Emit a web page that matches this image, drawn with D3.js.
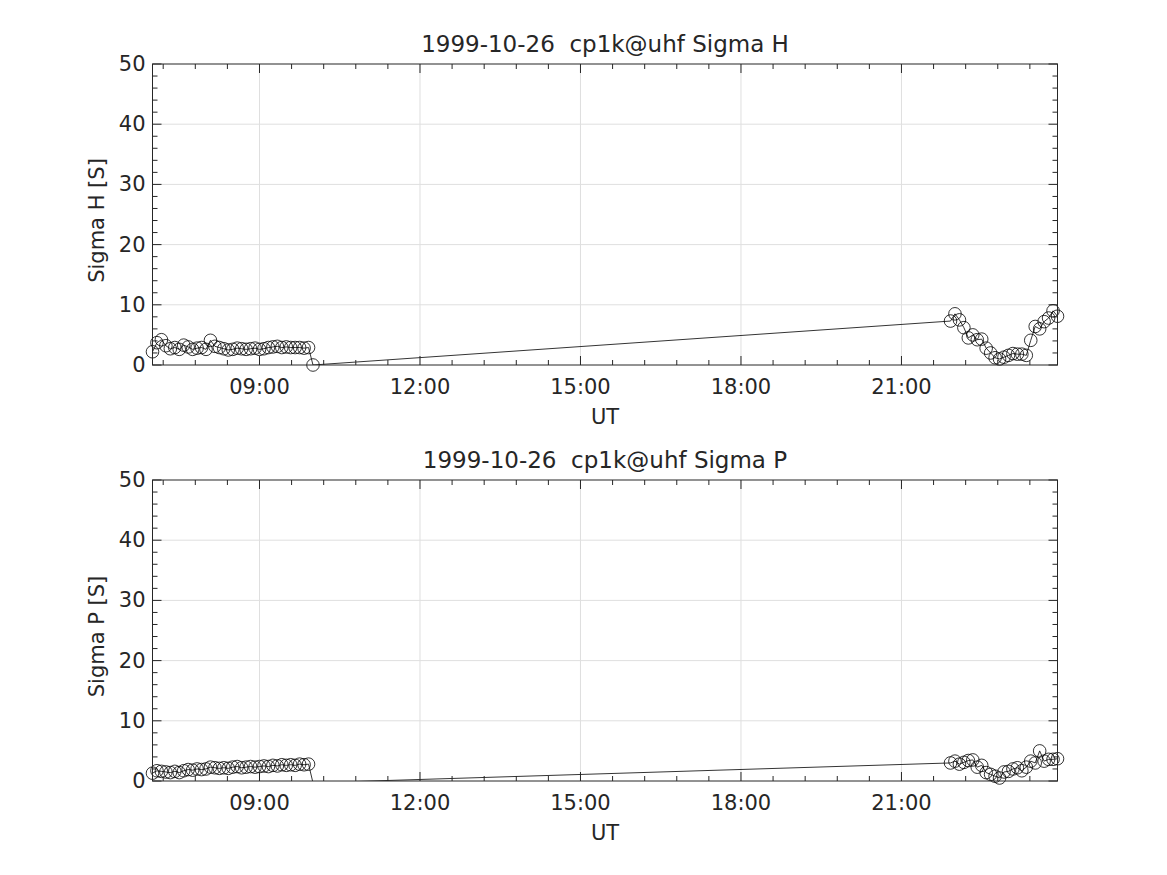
<!DOCTYPE html>
<html>
<head>
<meta charset="utf-8">
<script src="https://cdn.jsdelivr.net/npm/d3@7"></script>
<style>
  body { margin: 0; background: #fff; }
  text { font-family: "DejaVu Sans", sans-serif; fill: #262626; }
</style>
</head>
<body>
<div id="chart"></div>
<script>
// Sample times (UT) for both panels
var times = [
  "07:00","07:05","07:10","07:15","07:20","07:25","07:30","07:35","07:40","07:45","07:50","07:55",
  "08:00","08:05","08:10","08:15","08:20","08:25","08:30","08:35","08:40","08:45","08:50","08:55",
  "09:00","09:05","09:10","09:15","09:20","09:25","09:30","09:35","09:40","09:45","09:50","09:55",
  "10:00",
  "21:55","22:00","22:05","22:10","22:15","22:20","22:25","22:30","22:35","22:40","22:45","22:50",
  "22:55","23:00","23:05","23:10","23:15","23:20","23:25","23:30","23:35","23:40","23:45","23:50","23:55"
];

// Hall conductance [S]
var sigmaH = [
  2.2, 3.7, 4.2, 3.2, 2.7, 2.9, 2.6, 3.3, 3.0, 2.6, 2.8, 2.9,
  2.6, 4.1, 3.1, 2.9, 2.7, 2.5, 2.6, 2.8, 2.7, 2.6, 2.7, 2.8,
  2.6, 2.7, 2.9, 3.0, 3.1, 2.9, 3.0, 2.9, 2.9, 2.9, 2.8, 2.9,
  0.0,
  7.3, 8.5, 7.5, 6.2, 4.5, 5.0, 4.2, 4.3, 2.8, 2.0, 1.2, 1.0,
  1.3, 1.6, 1.9, 1.8, 1.8, 1.6, 4.1, 6.4, 6.0, 7.2, 7.8, 9.0, 8.1
];

// Pedersen conductance [S]
var sigmaP = [
  1.3, 1.7, 1.6, 1.5, 1.4, 1.6, 1.4, 1.7, 1.9, 1.8, 2.0, 1.9,
  2.0, 2.3, 2.2, 2.1, 2.2, 2.1, 2.3, 2.4, 2.2, 2.3, 2.4, 2.3,
  2.4, 2.5, 2.4, 2.6, 2.5, 2.7, 2.6, 2.7, 2.6, 2.8, 2.7, 2.8,
  -0.3,
  3.0, 3.3, 2.8, 3.1, 3.4, 3.5, 2.3, 2.6, 1.4, 1.1, 0.8, 0.5,
  1.5, 1.6, 2.0, 2.2, 1.7, 2.3, 3.3, 3.0, 5.0, 3.3, 3.6, 3.6, 3.7
];

var xTicks = ["09:00", "12:00", "15:00", "18:00", "21:00"];
var yTicks = [0, 10, 20, 30, 40, 50];

var panels = [
  {title: "1999-10-26  cp1k@uhf Sigma H", ylabel: "Sigma H [S]", values: sigmaH, top: 64},
  {title: "1999-10-26  cp1k@uhf Sigma P", ylabel: "Sigma P [S]", values: sigmaP, top: 480}
];

var W = 1167, H = 875;
var left = 152.5, right = 1057.5, ph = 301;

var parseT = d3.utcParse("%H:%M");

var svg = d3.select("#chart").append("svg")
    .attr("width", W)
    .attr("height", H);

var x = d3.scaleUtc()
    .domain([parseT(times[0]), parseT(times[times.length - 1])])
    .range([left, right]);

var y = d3.scaleLinear()
    .domain([0, 50])
    .range([ph, 0]);

// Minor ticks every 36 minutes, anchored at the major ticks
var minorX = [];
var t0 = +parseT("09:00");
for (var t = t0 - 5 * 36 * 60000; t <= +x.domain()[1]; t += 36 * 60000) {
  if (t >= +x.domain()[0] && (t - t0) % (180 * 60000) != 0) minorX.push(new Date(t));
}
var minorY = d3.range(0, 51, 2).filter(function(d) { return d % 10 != 0; });

var clipId = 0;

panels.forEach(function(p) {
  var g = svg.append("g")
      .attr("transform", "translate(0," + p.top + ")");

  // grid
  g.selectAll("line.vgrid").data(xTicks).enter()
    .append("line")
      .attr("x1", function(d) { return x(parseT(d)); })
      .attr("x2", function(d) { return x(parseT(d)); })
      .attr("y1", 0).attr("y2", ph)
      .attr("stroke", "#dfdfdf").attr("stroke-width", 1);

  g.selectAll("line.hgrid").data(yTicks.slice(1, -1)).enter()
    .append("line")
      .attr("x1", left).attr("x2", right)
      .attr("y1", function(d) { return y(d); })
      .attr("y2", function(d) { return y(d); })
      .attr("stroke", "#dfdfdf").attr("stroke-width", 1);

  // data
  var pts = p.values.map(function(v, i) { return {t: parseT(times[i]), v: v}; });

  clipId++;
  g.append("clipPath").attr("id", "clip" + clipId)
    .append("rect")
      .attr("x", left).attr("y", 0)
      .attr("width", right - left).attr("height", ph);

  var line = d3.line()
      .x(function(d) { return x(d.t); })
      .y(function(d) { return y(d.v); });

  g.append("path")
      .datum(pts)
      .attr("clip-path", "url(#clip" + clipId + ")")
      .attr("fill", "none")
      .attr("stroke", "#000")
      .attr("stroke-width", 0.8)
      .attr("d", line);

  // markers drawn only where the point is inside the axes
  g.selectAll("circle").data(pts.filter(function(d) { return d.v >= 0 && d.v <= 50; })).enter()
    .append("circle")
      .attr("cx", function(d) { return x(d.t); })
      .attr("cy", function(d) { return y(d.v); })
      .attr("r", 6.3)
      .attr("fill", "none")
      .attr("stroke", "#000")
      .attr("stroke-width", 0.8);

  // box
  g.append("rect")
      .attr("x", left).attr("y", 0)
      .attr("width", right - left).attr("height", ph)
      .attr("fill", "none")
      .attr("stroke", "#262626")
      .attr("stroke-width", 1);

  // x ticks, bottom and top, pointing inward
  var xt = xTicks.map(function(d) { return {t: parseT(d), len: 9}; })
      .concat(minorX.map(function(d) { return {t: d, len: 5}; }));
  g.selectAll("line.xtb").data(xt).enter()
    .append("line")
      .attr("x1", function(d) { return x(d.t); })
      .attr("x2", function(d) { return x(d.t); })
      .attr("y1", ph).attr("y2", function(d) { return ph - d.len; })
      .attr("stroke", "#262626");
  g.selectAll("line.xtt").data(xt).enter()
    .append("line")
      .attr("x1", function(d) { return x(d.t); })
      .attr("x2", function(d) { return x(d.t); })
      .attr("y1", 0).attr("y2", function(d) { return d.len; })
      .attr("stroke", "#262626");

  // y ticks, left and right
  var yt = yTicks.map(function(d) { return {v: d, len: 9}; })
      .concat(minorY.map(function(d) { return {v: d, len: 5}; }));
  g.selectAll("line.ytl").data(yt).enter()
    .append("line")
      .attr("x1", left).attr("x2", function(d) { return left + d.len; })
      .attr("y1", function(d) { return y(d.v); })
      .attr("y2", function(d) { return y(d.v); })
      .attr("stroke", "#262626");
  g.selectAll("line.ytr").data(yt).enter()
    .append("line")
      .attr("x1", right).attr("x2", function(d) { return right - d.len; })
      .attr("y1", function(d) { return y(d.v); })
      .attr("y2", function(d) { return y(d.v); })
      .attr("stroke", "#262626");

  // tick labels
  g.selectAll("text.xl").data(xTicks).enter()
    .append("text")
      .attr("x", function(d) { return x(parseT(d)); })
      .attr("y", ph + 29)
      .attr("text-anchor", "middle")
      .style("font-size", "21px")
      .text(function(d) { return d; });

  g.selectAll("text.yl").data(yTicks).enter()
    .append("text")
      .attr("x", left - 7)
      .attr("y", function(d) { return y(d) + 7; })
      .attr("text-anchor", "end")
      .style("font-size", "21px")
      .text(function(d) { return d; });

  // labels and title
  g.append("text")
      .attr("x", (left + right) / 2)
      .attr("y", ph + 59)
      .attr("text-anchor", "middle")
      .style("font-size", "21px")
      .text("UT");

  g.append("text")
      .attr("transform", "translate(104," + (ph / 2 + 6) + ") rotate(-90)")
      .attr("text-anchor", "middle")
      .style("font-size", "21px")
      .text(p.ylabel);

  g.append("text")
      .attr("x", (left + right) / 2)
      .attr("y", -12)
      .attr("text-anchor", "middle")
      .style("font-size", "23px")
      .style("white-space", "pre")
      .text(p.title);
});
</script>
</body>
</html>
